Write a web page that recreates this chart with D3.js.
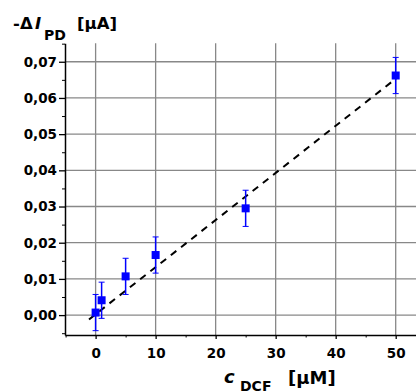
<!DOCTYPE html>
<html>
<head>
<meta charset="utf-8">
<script src="https://cdn.jsdelivr.net/npm/d3@7"></script>
<style>
  body { margin: 0; background: #fff; }
  text { font-family: "DejaVu Sans", sans-serif; font-weight: bold; }
</style>
</head>
<body>
<div id="chart"></div>
<script>
// measured points: concentration [uM] vs -dI_PD [uA]
const conc = [0, 1, 5, 10, 25, 50];
const signal = [0.0007, 0.0041, 0.0107, 0.0166, 0.0295, 0.0662];
const errs = [0.005, 0.005, 0.005, 0.005, 0.005, 0.005];
// linear fit, end points
const fitX = [-1.1, 50.3];
const fitY = [-0.0012, 0.0657];
const xTicks = [0, 10, 20, 30, 40, 50];
const xMinor = [-5, 5, 15, 25, 35, 45];
const yTicks = [0, 0.01, 0.02, 0.03, 0.04, 0.05, 0.06, 0.07];
const yMinor = [-0.005, 0.005, 0.015, 0.025, 0.035, 0.045, 0.055, 0.065, 0.075];

const W = 416, H = 392;
const pLeft = 65, pRight = 416.7, pTop = 43.3, pBottom = 335;

const svg = d3.select("#chart").append("svg")
    .attr("width", W)
    .attr("height", H)
    .style("background", "#fff");

const x = d3.scaleLinear().domain([-5.1, 53.5]).range([pLeft, pRight]);
const y = d3.scaleLinear().domain([-0.0055, 0.0751]).range([pBottom, pTop]);
const fmt = d => d3.format(".2f")(d).replace(".", ",");

// grid
const grid = svg.append("g").attr("stroke", "#888").attr("stroke-width", 1.3);
grid.selectAll(".gx").data(xTicks).enter().append("line")
    .attr("x1", d => x(d)).attr("x2", d => x(d))
    .attr("y1", pTop).attr("y2", pBottom);
grid.selectAll(".gy").data(yTicks).enter().append("line")
    .attr("x1", pLeft).attr("x2", W)
    .attr("y1", d => y(d)).attr("y2", d => y(d));

// minor ticks
svg.append("g").attr("transform", "translate(0," + pBottom + ")")
    .call(d3.axisBottom(x).tickValues(xMinor).tickSize(2.5).tickSizeOuter(0).tickFormat(""))
    .call(g => g.select(".domain").remove());
svg.append("g").attr("transform", "translate(" + pLeft + ",0)")
    .call(d3.axisLeft(y).tickValues(yMinor).tickSize(3).tickSizeOuter(0).tickFormat(""))
    .call(g => g.select(".domain").remove());

// main axes
const xAxis = svg.append("g").attr("transform", "translate(0," + pBottom + ")")
    .call(d3.axisBottom(x).tickValues(xTicks).tickSize(4).tickPadding(9).tickSizeOuter(0));
const yAxis = svg.append("g").attr("transform", "translate(" + pLeft + ",0)")
    .call(d3.axisLeft(y).tickValues(yTicks).tickSize(6).tickPadding(2).tickSizeOuter(0).tickFormat(fmt));

[xAxis, yAxis].forEach(a => {
    a.selectAll("text").attr("font-family", "DejaVu Sans").attr("font-weight", "bold")
        .attr("font-size", 13.5).attr("fill", "#000");
    a.select(".domain").attr("stroke", "#000").attr("stroke-width", 1.5);
    a.selectAll(".tick line").attr("stroke", "#000").attr("stroke-width", 1.3);
});
svg.selectAll(".tick line").attr("stroke", "#000");

// fit line
svg.append("path")
    .datum(d3.zip(fitX, fitY))
    .attr("fill", "none")
    .attr("stroke", "#000")
    .attr("stroke-width", 2)
    .attr("stroke-dasharray", "7,6")
    .attr("d", d3.line().x(d => x(d[0])).y(d => y(d[1])));

// error bars
const pts = conc.map((c, i) => ({ c: c, v: signal[i], e: errs[i] }));
const eb = svg.append("g").attr("stroke", "#0000ff");
eb.selectAll(".bar").data(pts).enter().append("line")
    .attr("stroke-width", 1.5)
    .attr("x1", d => x(d.c)).attr("x2", d => x(d.c))
    .attr("y1", d => y(d.v - d.e)).attr("y2", d => y(d.v + d.e));
["lo", "hi"].forEach(k => {
    eb.selectAll(".cap" + k).data(pts).enter().append("line")
        .attr("stroke-width", 1)
        .attr("x1", d => x(d.c) - 3).attr("x2", d => x(d.c) + 3)
        .attr("y1", d => y(k == "lo" ? d.v - d.e : d.v + d.e))
        .attr("y2", d => y(k == "lo" ? d.v - d.e : d.v + d.e));
});

// squares
svg.selectAll(".pt").data(pts).enter().append("rect")
    .attr("x", d => x(d.c) - 4).attr("y", d => y(d.v) - 4)
    .attr("width", 8).attr("height", 8)
    .attr("fill", "#0000ff");

// y title
const yt = svg.append("text").attr("font-size", 16.5).attr("fill", "#000");
yt.append("tspan").attr("x", 13).attr("y", 28.5).text("-");
yt.append("tspan").attr("x", 20).attr("y", 28.5).text("Δ");
yt.append("tspan").attr("x", 35).attr("y", 28.5).attr("font-style", "italic").text("I");
yt.append("tspan").attr("x", 44).attr("y", 40).attr("font-size", 14).text("PD");
yt.append("tspan").attr("x", 77).attr("y", 28.5).text("[µA]");

// x title
const xt = svg.append("text").attr("font-size", 18).attr("fill", "#000");
xt.append("tspan").attr("x", 224).attr("y", 383).attr("font-style", "italic").text("c");
xt.append("tspan").attr("x", 240).attr("y", 390.5).attr("font-size", 14).text("DCF");
xt.append("tspan").attr("x", 288).attr("y", 383.5).text("[µM]");
</script>
</body>
</html>
